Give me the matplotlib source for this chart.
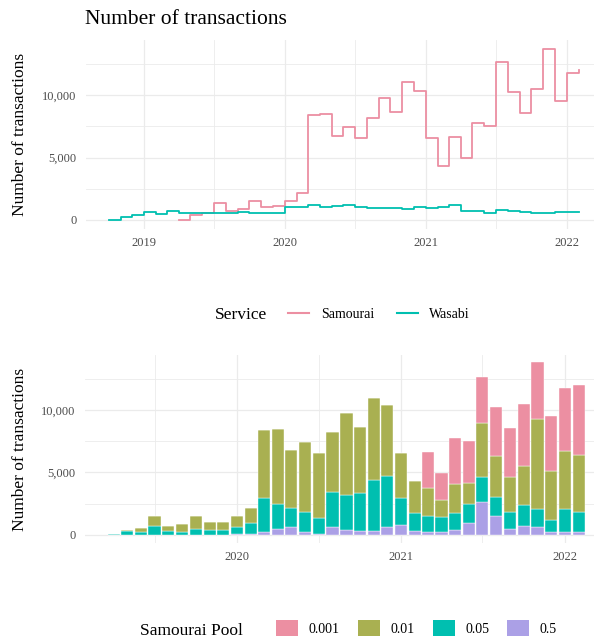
import numpy as np
import pandas as pd
import matplotlib
matplotlib.use('Agg')
import matplotlib.pyplot as plt
import matplotlib.ticker as mticker
import matplotlib.dates as mdates
from matplotlib.lines import Line2D
from matplotlib.patches import Patch

plt.rcParams['font.family'] = ['Liberation Serif', 'DejaVu Serif']

# monthly data
wasabi_months = pd.date_range('2018-10-01', '2022-02-01', freq='MS')
wasabi = [20, 240, 380,
          620, 480, 700, 540, 540, 550, 570, 590, 610, 590, 540, 590,
          1080, 1080, 1180, 1080, 1130, 1180, 1020, 970, 990, 990, 910, 1080,
          990, 1080, 1180, 700, 700, 590, 780, 700, 650, 570, 570, 670,
          670, 680]

samourai_months = pd.date_range('2019-04-01', '2022-02-01', freq='MS')
samourai = [30, 430, 590, 1330, 750, 890, 1560, 1050, 1100,
            1530, 2180, 8370, 8500, 6690, 7430, 6600, 8180, 9790, 8660, 11020, 10350,
            6600, 4360, 6630, 4970, 7780, 7510, 12650, 10250, 8590, 10520, 13720, 9530,
            11760, 12000]

# samourai pools (stacked bars)
pool_labels = ['0.001', '0.01', '0.05', '0.5']
pool_colors = ['#EC8FA2', '#A9B051', '#00BFB0', '#ABA0E6']
pool_001 = [0, 0, 0, 0, 0, 0, 0, 0, 0,
            0, 0, 0, 0, 0, 0, 0, 0, 0, 0, 0, 0,
            0, 0, 2880, 2160, 3680, 3360, 3680, 3920, 3920, 4960, 4560, 4400,
            5040, 5600]
pool_01 = [0, 80, 320, 800, 400, 640, 1040, 640, 640,
           880, 1200, 5440, 6000, 4640, 5600, 5200, 4800, 6560, 5280, 6560, 5680,
           3600, 2560, 2240, 1360, 2320, 1680, 4320, 3280, 2800, 3120, 7200, 3920,
           4640, 4560]
pool_05 = [40, 350, 270, 750, 320, 240, 480, 400, 400,
           560, 880, 2720, 2000, 1520, 1600, 1280, 2800, 2800, 3040, 4080, 4080,
           2160, 1440, 1280, 1200, 1360, 1520, 2000, 1520, 1360, 1680, 1440, 960,
           1840, 1600]
pool_5 = [0, 0, 0, 0, 30, 30, 30, 30, 30,
          100, 100, 250, 500, 600, 200, 100, 600, 420, 350, 350, 600,
          820, 350, 270, 270, 420, 980, 2650, 1550, 500, 750, 600, 270,
          270, 270]

service_colors = {'Samourai': '#EC8FA2', 'Wasabi': '#00BFB0'}
grid_col = '#EBEBEB'
tick_col = '#4D4D4D'

W, H = 594, 638
fig = plt.figure(figsize=(W / 100, H / 100), dpi=100)


def style_axes(ax):
    for s in ax.spines.values():
        s.set_visible(False)
    ax.set_axisbelow(True)
    ax.xaxis.set_major_locator(mdates.YearLocator())
    ax.xaxis.set_major_formatter(mdates.DateFormatter('%Y'))
    ax.xaxis.set_minor_locator(mdates.MonthLocator(bymonth=7))
    ax.yaxis.set_major_locator(mticker.MultipleLocator(5000))
    ax.yaxis.set_minor_locator(mticker.MultipleLocator(2500))
    ax.yaxis.set_major_formatter(mticker.FuncFormatter(lambda v, p: f'{int(v):,}'))
    ax.grid(which='major', color=grid_col, lw=0.9)
    ax.grid(which='minor', color=grid_col, lw=0.6)
    ax.tick_params(which='both', length=0, labelsize=9, labelcolor=tick_col)
    ax.tick_params(axis='y', pad=7)
    ax.tick_params(axis='x', pad=6)
    ax.set_ylabel('Number of transactions', fontsize=12.5)
    ax.yaxis.label.set_va('center')


# top: step lines
ax1 = fig.add_axes([86 / W, 1 - 229 / H, 1 - 86 / W, 189 / H])
ax1.step(samourai_months, samourai, where='post', color=service_colors['Samourai'], lw=1.3)
ax1.step(wasabi_months, wasabi, where='post', color=service_colors['Wasabi'], lw=1.3)
ax1.set_xlim(pd.Timestamp('2018-08-03'), pd.Timestamp('2022-03-13'))
ax1.set_ylim(-720, 14400)
style_axes(ax1)
ax1.yaxis.set_label_coords(-66 / 508, 0.5)

fig.text(85 / W, 1 - 19 / H, 'Number of transactions', fontsize=15.5, va='center', ha='left')

fig.text(215 / W, 1 - 315 / H, 'Service', fontsize=12.5, va='center', ha='left')
h1 = [Line2D([], [], color=service_colors[k], lw=1.5) for k in service_colors]
fig.legend(h1, list(service_colors), loc='center left', ncol=2, frameon=False,
           bbox_to_anchor=(288 / W, 1 - 314 / H), borderaxespad=0, borderpad=0,
           fontsize=10, handlelength=1.5, handletextpad=0.85, columnspacing=1.65)

# bottom: stacked bars
ax2 = fig.add_axes([85 / W, 1 - 543 / H, 1 - 85 / W, 188 / H])
pools = [pool_001, pool_01, pool_05, pool_5]
bottom = np.zeros(len(samourai_months))
for vals, col in zip(pools[::-1], pool_colors[::-1]):
    ax2.bar(samourai_months, vals, width=27, bottom=bottom, color=col,
            edgecolor='white', linewidth=0.3)
    bottom += np.array(vals)
ax2.set_xlim(pd.Timestamp('2019-01-27'), pd.Timestamp('2022-03-07'))
ax2.set_ylim(-650, 14400)
style_axes(ax2)
ax2.yaxis.set_label_coords(-65 / 509, 0.5)

fig.text(140 / W, 1 - 631 / H, 'Samourai Pool', fontsize=12.5, va='center', ha='left')
h2 = [Patch(facecolor=c) for c in pool_colors]
fig.legend(h2, pool_labels, loc='center left', ncol=4, frameon=False,
           bbox_to_anchor=(276 / W, 1 - 628 / H), borderaxespad=0, borderpad=0,
           fontsize=10, handlelength=1.6, handleheight=1.45, handletextpad=0.75,
           columnspacing=1.3)

fig.savefig('out.png', dpi=100)
